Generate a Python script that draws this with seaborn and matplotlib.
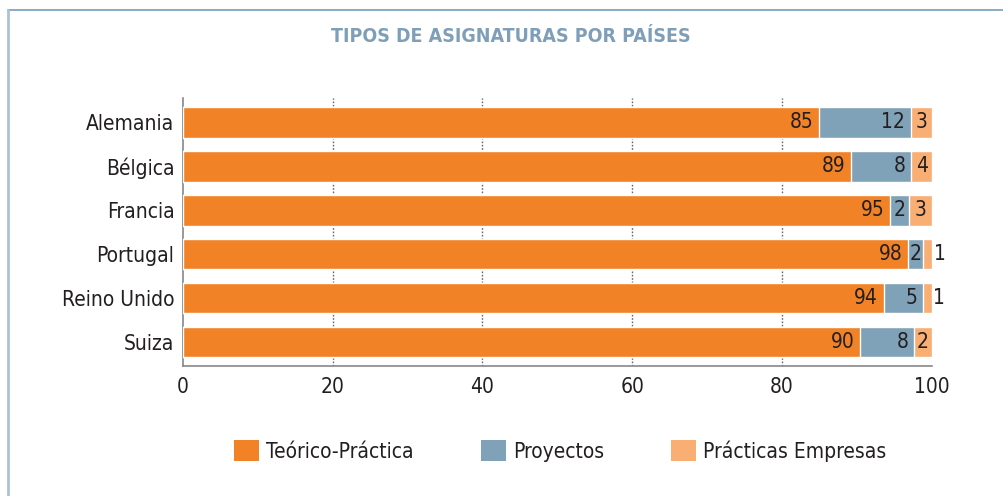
import matplotlib
matplotlib.use("Agg")
import matplotlib.pyplot as plt
from matplotlib.lines import Line2D
from matplotlib.patches import Patch
import seaborn as sns
import pandas as pd
import numpy as np

# datos
paises = ['Alemania', 'Bélgica', 'Francia', 'Portugal', 'Reino Unido', 'Suiza']
teorico = [84.9, 89.2, 94.4, 96.8, 93.6, 90.4]
proyectos = [12.3, 8.1, 2.6, 2.1, 5.3, 7.3]
practicas = [2.8, 2.7, 3.1, 1.2, 1.1, 2.3]
# etiquetas tal como aparecen en el grafico
etq_teorico = [85, 89, 95, 98, 94, 90]
etq_proyectos = [12, 8, 2, 2, 5, 8]
etq_practicas = [3, 4, 3, 1, 1, 2]
series = ['Teórico-Práctica', 'Proyectos', 'Prácticas Empresas']

c_naranja = '#F28226'
c_azul = '#7FA2B8'
c_rosa = '#F9AE74'
c_texto = '#231F20'

sns.set_style('white')
plt.rcParams['font.family'] = ['DejaVu Sans']
plt.rcParams['font.stretch'] = 'condensed'

df = pd.DataFrame({'pais': paises, 'teorico': teorico,
                   'proyectos': proyectos, 'practicas': practicas})
df['hasta_proy'] = df['teorico'] + df['proyectos']
df['total'] = df['hasta_proy'] + df['practicas']

fig = plt.figure(figsize=(10.04, 4.96), dpi=100)
ax = fig.add_axes([0.182, 0.262, 0.746, 0.540])

# barras apiladas: se dibuja primero el total y encima los parciales
sns.barplot(data=df, y='pais', x='total', color=c_rosa, orient='h',
            width=0.7, saturation=1, ax=ax, zorder=3)
sns.barplot(data=df, y='pais', x='hasta_proy', color=c_azul, orient='h',
            width=0.7, saturation=1, ax=ax, zorder=3)
sns.barplot(data=df, y='pais', x='teorico', color=c_naranja, orient='h',
            width=0.7, saturation=1, ax=ax, zorder=3)

fs = 15
for i in range(len(paises)):
    ax.annotate(str(etq_teorico[i]), (df['teorico'][i], i), xytext=(-4, 0),
                textcoords='offset points', ha='right', va='center',
                fontsize=fs, color=c_texto, zorder=5, annotation_clip=False)
    if proyectos[i] < 3:
        ax.annotate(str(etq_proyectos[i]),
                    (df['teorico'][i] + proyectos[i] / 2, i),
                    ha='center', va='center', fontsize=fs, color=c_texto,
                    zorder=5, annotation_clip=False)
    else:
        ax.annotate(str(etq_proyectos[i]), (df['hasta_proy'][i], i),
                    xytext=(-4, 0), textcoords='offset points', ha='right',
                    va='center', fontsize=fs, color=c_texto, zorder=5,
                    annotation_clip=False)
    if practicas[i] < 2:
        ax.annotate(str(etq_practicas[i]), (df['total'][i], i), xytext=(1, 0),
                    textcoords='offset points', ha='left', va='center',
                    fontsize=fs, color=c_texto, zorder=5, annotation_clip=False)
    else:
        ax.annotate(str(etq_practicas[i]),
                    (df['hasta_proy'][i] + practicas[i] / 2, i),
                    ha='center', va='center', fontsize=fs, color=c_texto,
                    zorder=5, annotation_clip=False)

ax.set_xlim(0, 100)
ax.set_ylim(5.55, -0.55)
ax.set_xticks([0, 20, 40, 60, 80, 100])
ax.set_xlabel('')
ax.set_ylabel('')
ax.tick_params(axis='x', direction='in', length=5, color='#888888',
               labelsize=fs, labelcolor=c_texto, pad=8)
ax.tick_params(axis='y', length=0, labelsize=fs, labelcolor=c_texto, pad=6)

for g in [20, 40, 60, 80]:
    ax.axvline(g, color='#666666', lw=1.0, ls=(0, (1.2, 1.2)), zorder=1)

for s in ['top', 'right']:
    ax.spines[s].set_visible(False)
for s in ['left', 'bottom']:
    ax.spines[s].set_color('#888888')
    ax.spines[s].set_linewidth(1.2)

# leyenda
handles = [Patch(facecolor=c, edgecolor='none') for c in [c_naranja, c_azul, c_rosa]]
fig.legend(handles, series, loc='center', bbox_to_anchor=(0.558, 0.091),
           ncol=3, frameon=False, fontsize=fs, handlelength=1.2,
           handleheight=1.2, handletextpad=0.35, columnspacing=3.2,
           labelcolor=c_texto)

fig.text(0.509, 0.927, 'TIPOS DE ASIGNATURAS POR PAÍSES', ha='center',
         va='center', fontsize=14, fontweight='bold', color='#7F9FB8')

# marco del recuadro
fig.add_artist(Line2D([8 / 1004, 1], [1 - 10 / 496, 1 - 10 / 496],
                      color='#7FA6C0', lw=1.3))
fig.add_artist(Line2D([8 / 1004, 8 / 1004], [0, 1 - 10 / 496],
                      color='#A9C3D5', lw=2))

fig.savefig('out.png', dpi=100)
